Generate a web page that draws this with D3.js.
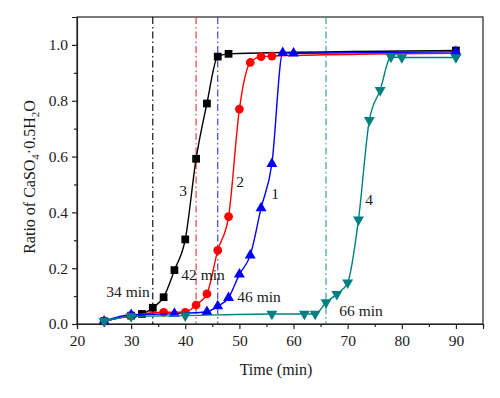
<!DOCTYPE html>
<html>
<head>
<meta charset="utf-8">
<script src="https://cdn.jsdelivr.net/npm/d3@7"></script>
<style>
  html, body { margin: 0; padding: 0; background: #ffffff; }
  svg { display: block; }
  text { font-family: "Liberation Serif", "DejaVu Serif", serif; fill: #1a1a1a; }
</style>
</head>
<body>
<svg id="chart" width="500" height="398"></svg>
<script>
// ---- data ----
const times3 = [25, 30, 32, 34, 36, 38, 40, 42, 44, 46, 48, 90];
const ratio3 = [0.01, 0.03, 0.036, 0.058, 0.096, 0.193, 0.303, 0.592, 0.79, 0.958, 0.968, 0.98];

const times2 = [25, 30, 36, 40, 42, 44, 46, 48, 50, 52, 54, 56, 90];
const ratio2 = [0.01, 0.03, 0.042, 0.042, 0.068, 0.108, 0.264, 0.385, 0.77, 0.937, 0.958, 0.96, 0.97];

const times1 = [25, 30, 38, 44, 46, 48, 50, 52, 54, 56, 58, 60, 90];
const ratio1 = [0.01, 0.033, 0.037, 0.044, 0.064, 0.094, 0.178, 0.246, 0.415, 0.574, 0.972, 0.97, 0.975];

const times4 = [25, 30, 40, 56, 62, 64, 66, 68, 70, 72, 74, 76, 78, 80, 90];
const ratio4 = [0.01, 0.027, 0.03, 0.036, 0.036, 0.036, 0.077, 0.107, 0.148, 0.374, 0.73, 0.838, 0.957, 0.955, 0.955];

const seriesNames = ["3", "2", "1", "4"];
const seriesColors = ["#000000", "#ff0000", "#0000ff", "#008080"];
const seriesMarkers = ["square", "circle", "triangleUp", "triangleDown"];
const inductionTimes = [34, 42, 46, 66];
const inductionLabels = ["34 min", "42 min", "46 min", "66 min"];
const lineColors = ["#000000", "#e83030", "#3535d0", "#2a9595"];

const xTicks = [20, 30, 40, 50, 60, 70, 80, 90];
const yTicks = [0.0, 0.2, 0.4, 0.6, 0.8, 1.0];

// ---- layout ----
const svg = d3.select("#chart");
const L = 77, R = 483, T = 17, B = 324;
const x = d3.scaleLinear().domain([20, 95]).range([L, R]);
const y = d3.scaleLinear().domain([0, 1.1]).range([B, T]);

// frame
svg.append("rect").attr("x", L).attr("y", T).attr("width", R - L).attr("height", B - T)
  .attr("fill", "none").attr("stroke", "#222").attr("stroke-width", 1.2);

// axes
const xAxis = svg.append("g").attr("transform", `translate(0,${B})`)
  .call(d3.axisBottom(x).tickValues(xTicks).tickFormat(d3.format("d")).tickSize(5).tickPadding(6));
const yAxis = svg.append("g").attr("transform", `translate(${L},0)`)
  .call(d3.axisLeft(y).tickValues(yTicks).tickFormat(d3.format(".1f")).tickSize(5).tickPadding(4));
[xAxis, yAxis].forEach(g => {
  g.select(".domain").attr("stroke", "#222").attr("stroke-width", 1.2);
  g.selectAll(".tick line").attr("stroke", "#222").attr("stroke-width", 1.2);
  g.selectAll(".tick text").attr("font-size", 15.5).attr("fill", "#1a1a1a")
    .attr("font-family", "'Liberation Serif', serif");
});
// minor ticks
svg.append("g").attr("transform", `translate(0,${B})`)
  .call(d3.axisBottom(x).tickValues([25, 35, 45, 55, 65, 75, 85, 95]).tickFormat("").tickSize(3))
  .call(g => { g.select(".domain").remove(); g.selectAll("line").attr("stroke", "#222").attr("stroke-width", 1.2); });
svg.append("g").attr("transform", `translate(${L},0)`)
  .call(d3.axisLeft(y).tickValues([0.1, 0.3, 0.5, 0.7, 0.9]).tickFormat("").tickSize(3))
  .call(g => { g.select(".domain").remove(); g.selectAll("line").attr("stroke", "#222").attr("stroke-width", 1.2); });

// axis titles
svg.append("text").attr("x", (L + R) / 2 - 4).attr("y", 375).attr("text-anchor", "middle")
  .attr("font-size", 16).text("Time (min)");
const yt = svg.append("text").attr("transform", `translate(35,177) rotate(-90)`)
  .attr("text-anchor", "middle").attr("font-size", 16);
yt.append("tspan").text("Ratio of CaSO");
yt.append("tspan").attr("font-size", 11).attr("dy", 4).text("4");
yt.append("tspan").attr("dy", -4).text("·0.5H");
yt.append("tspan").attr("font-size", 11).attr("dy", 4).text("2");
yt.append("tspan").attr("dy", -4).text("O");

// vertical dash-dot lines
svg.append("g").selectAll("line").data(inductionTimes).join("line")
  .attr("x1", d => x(d)).attr("x2", d => x(d)).attr("y1", T).attr("y2", B)
  .attr("stroke", (d, i) => lineColors[i]).attr("stroke-width", 1.1)
  .attr("stroke-dasharray", "7,3,1.5,3");

// series
const allTimes = [times3, times2, times1, times4];
const allRatios = [ratio3, ratio2, ratio1, ratio4];
const line = d3.line().x(d => x(d[0])).y(d => y(d[1])).curve(d3.curveMonotoneX);
const symTypes = { square: d3.symbolSquare, circle: d3.symbolCircle, triangleUp: d3.symbolTriangle, triangleDown: d3.symbolTriangle };
const symSizes = { square: 60, circle: 60, triangleUp: 52, triangleDown: 52 };

allTimes.forEach((ts, i) => {
  const pts = ts.map((t, j) => [t, allRatios[i][j]]);
  const g = svg.append("g");
  g.append("path").datum(pts).attr("d", line).attr("fill", "none")
    .attr("stroke", seriesColors[i]).attr("stroke-width", 1.4);
  const m = seriesMarkers[i];
  g.selectAll("path.mk").data(pts).join("path").attr("class", "mk")
    .attr("d", d3.symbol().type(symTypes[m]).size(symSizes[m]))
    .attr("transform", d => `translate(${x(d[0])},${y(d[1])})` + (m === "triangleDown" ? " rotate(180)" : ""))
    .attr("fill", seriesColors[i]);
});

// induction time labels
const labelPos = [[128, 297], [203, 280], [259, 302], [361, 316]];
svg.append("g").selectAll("text").data(inductionLabels).join("text")
  .attr("x", (d, i) => labelPos[i][0]).attr("y", (d, i) => labelPos[i][1])
  .attr("text-anchor", "middle").attr("font-size", 15.5).text(d => d);

// curve numbers
const numPos = [[183, 196], [240, 187], [275, 199], [369, 205]];
svg.append("g").selectAll("text").data(seriesNames).join("text")
  .attr("x", (d, i) => numPos[i][0]).attr("y", (d, i) => numPos[i][1])
  .attr("text-anchor", "middle").attr("font-size", 15.5).text(d => d);
</script>
</body>
</html>
